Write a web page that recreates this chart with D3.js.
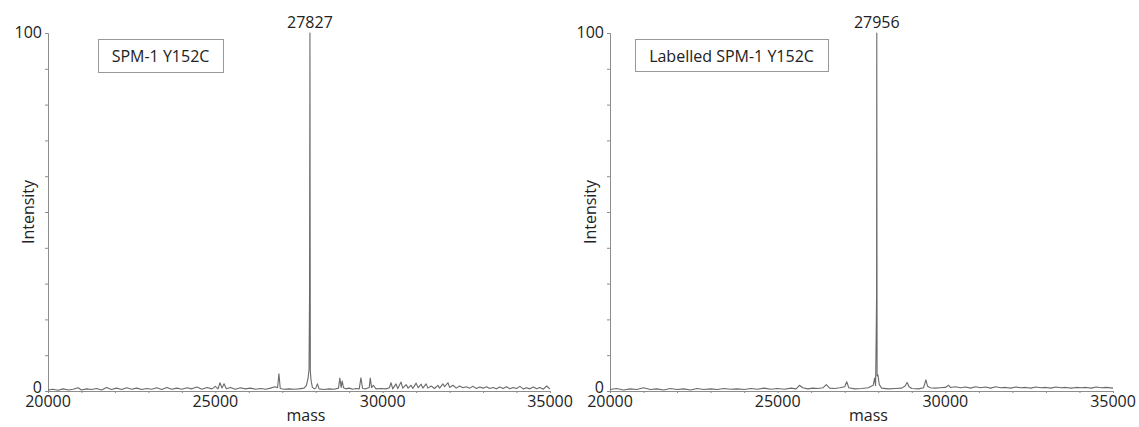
<!DOCTYPE html>
<html>
<head>
<meta charset="utf-8">
<script src="https://cdn.jsdelivr.net/npm/d3@7"></script>
<style>
	body { margin: 0; background: #fff; }
	svg text { font-family: "Open Sans", sans-serif; fill: #222; }
</style>
</head>
<body>
<svg id="chart" width="1139" height="427"></svg>
<script>
"use strict";

// mass axis ticks and labels
var massTicks = [20000, 25000, 30000, 35000];
var intensityLabels = [0, 100];

// SPM-1 Y152C spectrum (mass, % intensity)
var massA = [20000, 20150, 20300, 20450, 20600, 20750, 20900, 21000, 21150, 21300, 21450, 21600, 21750, 21900,
	22050, 22200, 22350, 22500, 22650, 22800, 22950, 23100, 23250, 23400, 23550, 23700, 23850, 24000, 24150,
	24300, 24450, 24600, 24750, 24900, 25000, 25080, 25140, 25200, 25260, 25330, 25450, 25600, 25750, 25900,
	26050, 26200, 26350, 26500, 26650, 26780, 26860, 26900, 26940, 27050, 27200, 27350, 27500, 27650, 27720,
	27770, 27800, 27815, 27827, 27838, 27860, 27900, 27960, 28000, 28050, 28100, 28250, 28400, 28550, 28680,
	28720, 28760, 28790, 28830, 28900, 29000, 29100, 29200, 29300, 29350, 29400, 29500, 29600, 29630, 29670,
	29720, 29800, 29950, 30100, 30200, 30250, 30300, 30400, 30450, 30550, 30600, 30700, 30760, 30850, 30900,
	31000, 31060, 31150, 31200, 31300, 31350, 31450, 31550, 31650, 31700, 31800, 31850, 31950, 32000, 32100,
	32200, 32300, 32400, 32500, 32600, 32700, 32800, 32900, 33000, 33100, 33200, 33300, 33400, 33500, 33600,
	33700, 33800, 33900, 34000, 34100, 34200, 34300, 34400, 34500, 34600, 34700, 34800, 34900, 35000];
var intA = [0.3, 0.5, 0.2, 0.6, 0.3, 0.5, 0.9, 0.3, 0.6, 0.4, 0.7, 0.3, 1.0, 0.4,
	0.8, 0.4, 0.9, 0.5, 0.8, 0.4, 0.7, 0.5, 0.9, 0.4, 1.0, 0.5, 0.8, 0.5, 0.9,
	0.6, 1.1, 0.5, 1.0, 0.6, 1.3, 0.6, 2.3, 0.8, 2.0, 0.6, 1.0, 0.5, 0.9, 0.6,
	0.8, 0.5, 0.7, 0.5, 0.8, 1.2, 0.9, 4.8, 0.7, 0.5, 0.6, 0.5, 0.6, 0.8, 1.5,
	3.5, 6.0, 27, 100, 5.5, 3.0, 1.0, 0.6, 0.8, 2.0, 0.6, 0.4, 0.6, 0.5, 0.8,
	3.6, 1.0, 2.8, 0.9, 0.6, 0.8, 0.5, 0.7, 0.6, 3.7, 0.7, 0.6, 1.0, 3.6, 0.9,
	1.6, 0.6, 0.7, 0.6, 0.9, 2.3, 0.6, 2.0, 0.7, 2.5, 0.8, 1.8, 0.8, 1.6, 0.7,
	2.2, 0.9, 1.9, 0.8, 2.0, 0.8, 1.4, 0.7, 1.6, 0.8, 2.0, 1.2, 2.3, 1.0, 1.6,
	0.8, 1.4, 0.9, 1.2, 0.8, 1.3, 0.7, 1.1, 0.8, 1.2, 0.7, 1.0, 0.6, 1.1, 0.7,
	1.2, 0.6, 1.0, 0.7, 1.3, 0.6, 0.9, 0.6, 1.1, 0.6, 1.0, 0.5, 1.4, 0.5];

// Labelled SPM-1 Y152C spectrum
var massB = [20000, 20200, 20400, 20600, 20800, 21000, 21200, 21400, 21600, 21800, 22000, 22200, 22400, 22600,
	22800, 23000, 23200, 23400, 23600, 23800, 24000, 24200, 24400, 24600, 24800, 25000, 25200, 25400, 25550,
	25650, 25750, 25900, 26050, 26200, 26350, 26450, 26550, 26700, 26850, 27000, 27060, 27120, 27300, 27500,
	27700, 27850, 27890, 27920, 27940, 27950, 27956, 27965, 27990, 28030, 28100, 28300, 28500, 28700, 28800,
	28860, 28920, 29000, 29200, 29350, 29420, 29470, 29550, 29700, 29850, 30000, 30100, 30150, 30300, 30450,
	30600, 30750, 30900, 31050, 31200, 31350, 31500, 31650, 31800, 31950, 32100, 32250, 32400, 32550, 32700,
	32850, 33000, 33150, 33300, 33450, 33600, 33750, 33900, 34050, 34200, 34350, 34500, 34650, 34800, 35000];
var intB = [0.4, 0.7, 0.3, 0.6, 0.4, 0.9, 0.4, 0.6, 0.3, 0.7, 0.4, 0.6, 0.3, 0.7,
	0.4, 0.6, 0.4, 0.7, 0.5, 0.6, 0.4, 0.7, 0.5, 0.8, 0.5, 0.7, 0.5, 0.8, 0.6,
	1.6, 0.9, 0.6, 0.8, 0.7, 0.9, 1.8, 0.8, 0.7, 0.9, 1.2, 2.6, 0.9, 0.6, 0.7,
	0.9, 1.6, 3.6, 1.5, 17, 27, 100, 4.2, 4.5, 1.8, 0.8, 0.6, 0.7, 0.8, 1.4,
	2.4, 1.2, 0.7, 0.6, 0.9, 3.1, 1.3, 0.9, 0.8, 0.9, 1.0, 1.6, 1.0, 1.2, 0.9,
	1.1, 0.8, 1.2, 0.9, 1.1, 0.8, 1.2, 0.9, 1.0, 0.8, 1.1, 0.9, 1.0, 0.8, 1.1,
	0.9, 1.0, 0.8, 1.1, 0.9, 1.0, 0.8, 1.0, 0.9, 1.0, 0.8, 1.1, 0.9, 1.0, 0.8];

var panels = [
	{ left: 48, right: 550, mass: massA, inten: intA, peak: 27827, name: "SPM-1 Y152C",
	  box: [98, 39, 125, 33] },
	{ left: 610, right: 1113, mass: massB, inten: intB, peak: 27956, name: "Labelled SPM-1 Y152C",
	  box: [635, 39, 193, 32] }
];

var plotTop = 33, plotBottom = 391;
var axisColor = "#8c8c8c";

function drawPanel(svg, p) {
	let x = d3.scaleLinear().domain([20000, 35000]).range([p.left, p.right]);
	let y = d3.scaleLinear().domain([0, 100]).range([plotBottom, plotTop]);
	let g = svg.append("g");

	// y axis: ticks every 10, labels only at 0 and 100
	let yax = g.append("g")
		.attr("transform", `translate(${p.left},0)`)
		.call(d3.axisLeft(y).tickValues(d3.range(0, 101, 10)).tickSize(3).tickFormat(""));
	yax.selectAll("line, path").attr("stroke", axisColor);
	g.selectAll(".ylab")
		.data(intensityLabels)
		.enter().append("text")
		.attr("x", p.left - 6)
		.attr("y", d=>d == 0 ? y(d) + 2 : y(d) + 5)
		.attr("text-anchor", "end")
		.attr("font-size", 16)
		.text(d=>d);

	// x axis
	let xax = g.append("g")
		.attr("transform", `translate(0,${plotBottom})`)
		.call(d3.axisBottom(x).tickValues(d3.range(20000, 35001, 1000)).tickSize(2).tickFormat(""));
	xax.selectAll("line, path").attr("stroke", axisColor);
	g.selectAll(".xlab")
		.data(massTicks)
		.enter().append("text")
		.attr("x", d=>x(d))
		.attr("y", 407)
		.attr("text-anchor", "middle")
		.attr("font-size", 16)
		.text(d=>d);

	g.append("text")
		.attr("x", (p.left + p.right) / 2 + 7)
		.attr("y", 421)
		.attr("text-anchor", "middle")
		.attr("font-size", 16)
		.text("mass");

	g.append("text")
		.attr("transform", `translate(${p.left - 14},212) rotate(-90)`)
		.attr("text-anchor", "middle")
		.attr("font-size", 16)
		.text("Intensity");

	// spectrum trace
	let pts = p.mass.map((m, i)=>[m, p.inten[i]]);
	g.append("path")
		.datum(pts)
		.attr("fill", "none")
		.attr("stroke", "#6a6a6a")
		.attr("stroke-width", 1.1)
		.attr("stroke-linejoin", "round")
		.attr("d", d3.line().x(d=>x(d[0])).y(d=>y(d[1])));

	// peak label
	g.append("text")
		.attr("x", x(p.peak))
		.attr("y", 28)
		.attr("text-anchor", "middle")
		.attr("font-size", 16)
		.text(p.peak);

	// sample name box
	g.append("rect")
		.attr("x", p.box[0] + 0.5)
		.attr("y", p.box[1] + 0.5)
		.attr("width", p.box[2])
		.attr("height", p.box[3])
		.attr("fill", "#fff")
		.attr("stroke", "#999");
	g.append("text")
		.attr("x", p.box[0] + p.box[2] / 2)
		.attr("y", p.box[1] + 23)
		.attr("text-anchor", "middle")
		.attr("font-size", 16)
		.text(p.name);
}

var svg = d3.select("#chart");
for (let p of panels) {
	drawPanel(svg, p);
}
</script>
</body>
</html>
